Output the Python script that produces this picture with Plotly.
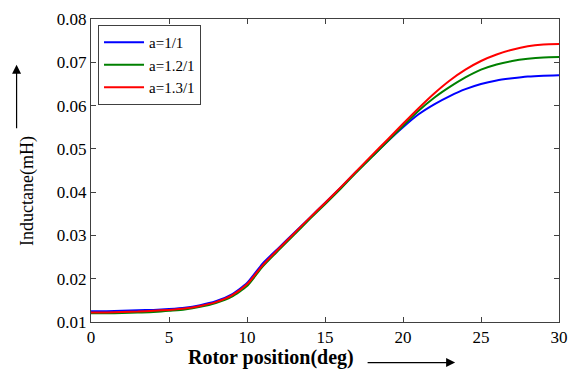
import plotly.graph_objects as go

x_deg = list(range(0, 31))
blue_a11 = [0.0125, 0.0125, 0.0126, 0.0127, 0.0128, 0.0130, 0.0133, 0.0139, 0.0148, 0.0163,
            0.0190, 0.0235, 0.0270, 0.0305, 0.0340, 0.0375, 0.0410, 0.0447, 0.0482, 0.0517,
            0.0550, 0.0580, 0.0603, 0.0622, 0.0638, 0.0650, 0.0658, 0.0663, 0.0667, 0.0669, 0.0670]
green_a121 = [0.0120, 0.0120, 0.0121, 0.0122, 0.0123, 0.0126, 0.0129, 0.0135, 0.0144, 0.0158,
              0.0183, 0.0228, 0.0265, 0.0301, 0.0337, 0.0372, 0.0408, 0.0445, 0.0481, 0.0517,
              0.0553, 0.0588, 0.0618, 0.0643, 0.0665, 0.0683, 0.0695, 0.0703, 0.0708, 0.0711, 0.0712]
red_a131 = [0.0122, 0.0122, 0.0123, 0.0124, 0.0126, 0.0128, 0.0131, 0.0137, 0.0146, 0.0161,
            0.0187, 0.0231, 0.0268, 0.0304, 0.0340, 0.0375, 0.0411, 0.0448, 0.0485, 0.0521,
            0.0558, 0.0594, 0.0628, 0.0658, 0.0683, 0.0703, 0.0718, 0.0729, 0.0737, 0.0741, 0.0742]
names = ["a=1/1", "a=1.2/1", "a=1.3/1"]
colors = ["#0000FF", "#008000", "#FF0000"]
x_ticks = [0, 5, 10, 15, 20, 25, 30]
y_ticks = [0.01, 0.02, 0.03, 0.04, 0.05, 0.06, 0.07, 0.08]

font_family = "Liberation Serif"
fig = go.Figure()
for ys, nm, c in zip([blue_a11, green_a121, red_a131], names, colors):
    fig.add_trace(go.Scatter(x=x_deg, y=ys, mode="lines", name=nm,
                             line=dict(color=c, width=2, shape="spline", smoothing=0.6)))

axis_common = dict(showgrid=False, zeroline=False, showline=True, linecolor="#404040",
                   linewidth=1, mirror="ticks", ticks="inside", ticklen=5, tickcolor="#404040",
                   tickfont=dict(family=font_family, size=17, color="black"))
fig.update_xaxes(range=[0, 30], tickvals=x_ticks, ticktext=[str(v) for v in x_ticks], **axis_common)
fig.update_yaxes(range=[0.01, 0.08], tickvals=y_ticks, ticktext=[f"{v:.2f}" for v in y_ticks], **axis_common)

fig.update_layout(
    width=578, height=374, margin=dict(l=91, r=10, t=17, b=52),
    plot_bgcolor="white", paper_bgcolor="white",
    font=dict(family=font_family, color="black"),
    legend=dict(x=0.015, y=0.98, xanchor="left", yanchor="top",
                bordercolor="#404040", borderwidth=1, bgcolor="white",
                font=dict(family=font_family, size=15, color="black"),
                tracegroupgap=0, itemwidth=40, entrywidth=118, entrywidthmode="pixels"),
    showlegend=True,
    annotations=[
        dict(text="Inductane(mH)", xref="paper", yref="paper", x=-0.161, y=0.433,
             textangle=-90, showarrow=False, font=dict(family=font_family, size=18)),
        dict(text="<b>Rotor position(deg)</b>", xref="paper", yref="paper", x=0.384, y=-0.118,
             showarrow=False, yanchor="middle", font=dict(family=font_family, size=20)),
        dict(text="", xref="paper", yref="paper", x=-0.159, y=0.849, ax=0, ay=65,
             showarrow=True, arrowhead=2, arrowsize=1.5, arrowwidth=1.2, arrowcolor="black"),
        dict(text="", xref="paper", yref="paper", x=0.778, y=-0.134, ax=-89, ay=0,
             showarrow=True, arrowhead=2, arrowsize=1.5, arrowwidth=1.2, arrowcolor="black"),
    ],
)
fig.write_html("out.html")
